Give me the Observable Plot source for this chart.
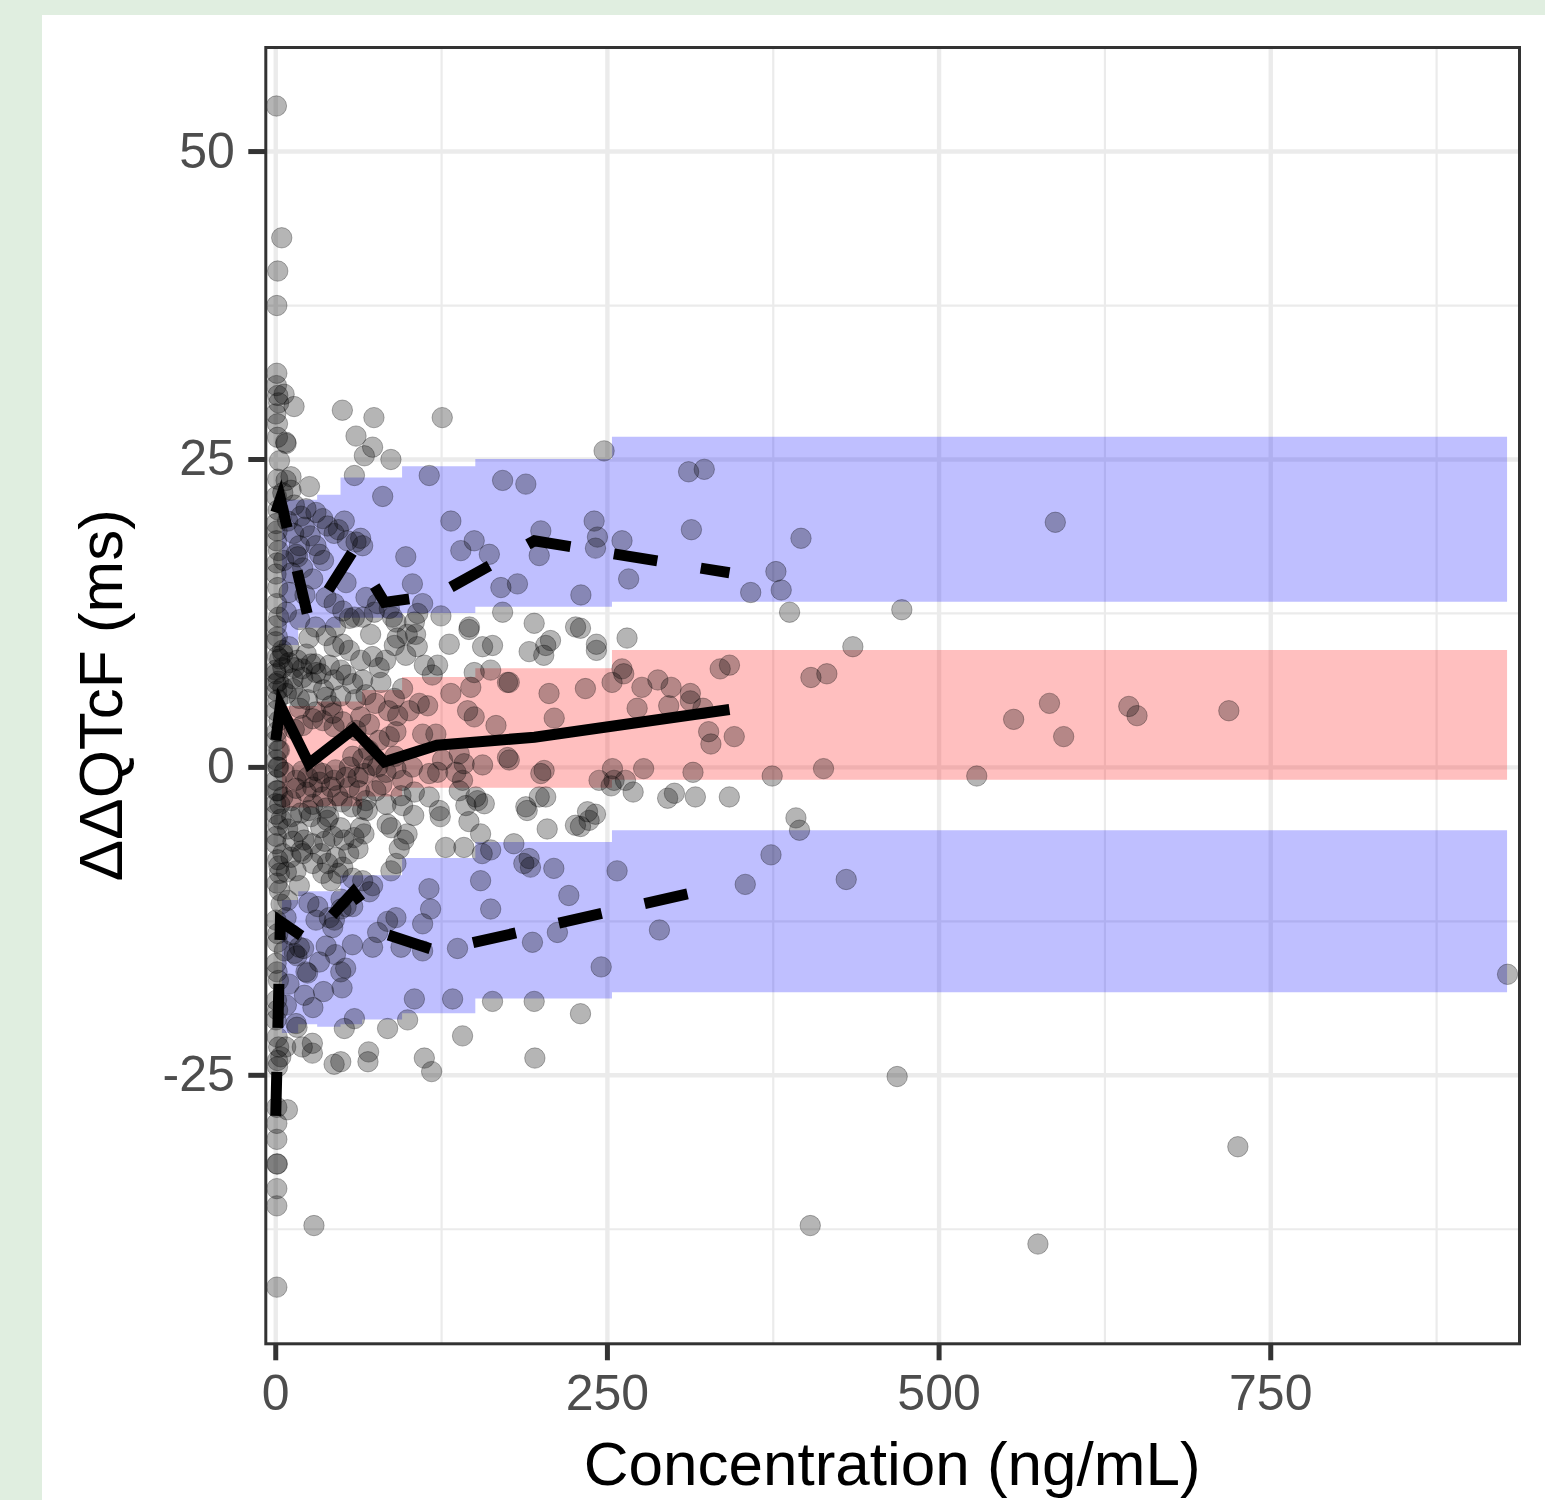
<!DOCTYPE html>
<html><head><meta charset="utf-8">
<script src="https://cdn.jsdelivr.net/npm/d3@7"></script>
<script src="https://cdn.jsdelivr.net/npm/@observablehq/plot@0.6"></script>
<style>
html,body{margin:0;padding:0;background:#e0eee0;width:1545px;height:1500px;overflow:hidden;}
#panel{position:absolute;left:42px;top:15px;width:1503px;height:1485px;background:#fff;overflow:hidden;}
</style></head><body><div id="panel"></div>
<script>
// ---- data ----
const xTicks = [0, 250, 500, 750];
const xMinor = [125, 375, 625, 875];
const yTicks = [-25, 0, 25, 50];
const yMinor = [-37.5, -12.5, 12.5, 37.5];

// bins (prediction interval bands)
const binStart = [5, 17.3, 31.6, 49.2, 65.5, 95.6, 150.8, 253.8];
const binEnd   = [17.3, 31.6, 49.2, 65.5, 95.6, 150.8, 253.8, 928.5];
const upperLo  = [9.9, 11.3, 11.3, 12.1, 12.1, 12.5, 13.0, 13.4];
const upperHi  = [21.7, 21.7, 22.1, 23.5, 23.5, 24.4, 25.0, 26.8];
const medLo    = [-3.3, -3.3, -3.2, -3.2, -2.4, -1.7, -1.7, -1.05];
const medHi    = [4.95, 4.95, 5.3, 5.3, 6.25, 7.3, 8.0, 9.5];
const lowerLo  = [-21.6, -20.9, -21.1, -20.9, -20.5, -20.0, -18.8, -18.3];
const lowerHi  = [-10.8, -10.1, -10.1, -8.8, -8.8, -7.4, -6.1, -5.15];

// observed percentile lines
const binMid    = [0, 3.5, 25, 58.5, 82, 121.5, 195, 342];
const obsMedian = [2.2, 5.0, 0.3, 3.1, 0.45, 1.8, 2.45, 4.7];
const obsP95    = [20.7, 21.8, 11.9, 17.6, 13.4, 14.0, 18.4, 15.8];
const obsP05    = [-28.3, -12.5, -14.1, -10.1, -13.5, -14.9, -13.1, -9.5];

// observed points [concentration, ddQTcF]
const observed = [
[0.5,53.7],[4.5,43.0],[1.5,40.3],[0.8,37.5],[0.8,32.0],[0.5,31.0],[6.3,30.3],[1.5,30.2],[2.2,29.6],[13.8,29.3],[0,28.7],[1.3,27.9],[1.3,26.8],[7.5,26.4],[2.8,24.9],[1.5,23.4],[0.5,22.0],[1.8,20.9],[0.3,19.8],[1.0,19.2],[0.5,18.4],[2.0,17.6],[0.8,16.6],[0.2,15.7],[1.5,14.6],[0.6,13.3],[2.2,12.2],[0.4,11.5],[1.2,10.6],[0,10.2],[1.3,9.0],[0,7.9],[2.0,7.0],[0.7,6.2],[1.6,5.5],[0.3,4.6],[2.4,3.8],[0.9,2.9],[1.9,1.4],[0.5,0.6],[2.1,0.0],[0.6,-1.9],[1.7,-4.7],[0.4,-5.6],[2.3,-8.0],[0.9,-9.4],[1.2,-14.2],[0.3,-15.9],[1.0,-16.6],[2.0,-17.3],[0.6,-18.9],[1.4,-19.7],[0.2,-20.5],[1.1,-21.9],[2.2,-22.7],[1.3,-23.8],[1.3,-24.3],[0.8,-27.6],[8.8,-27.8],[0.8,-28.9],[0.8,-30.2],[0.8,-32.2],[1.2,-32.2],[0.8,-34.2],[0.8,-35.6],[28.8,-37.2],[0.8,-42.2],
[50.2,29.0],[74,28.4],[125.5,28.4],[60.5,26.9],[73,26.0],[66.8,25.3],[86.8,25.0],[59.3,23.7],[115.7,23.7],[171,23.3],[188.5,23.0],[247.5,25.7],[80.6,22.0],[25.4,22.8],[11.5,23.6],[11.5,22.5],[5.3,22.3],[7.8,23.3],[7.8,26.3],[30.3,20.7],[22.8,21.0],[21.6,19.5],[39,19.6],[44,19.0],[51.7,20.0],[35.4,20.2],[47.2,19.3],[13.5,19.0],[30.3,18.0],[54,18.4],[60.5,18.3],[64,18.6],[65.5,18.0],[16.6,17.1],[17.8,18.0],[15.3,17.3],[20.3,16.2],[36,16.8],[27.9,15.3],[53,15.0],[37.9,13.8],[68,13.8],[76.8,13.3],[85.6,12.9],[98,17.1],[103,14.9],[110.7,13.3],[132,20.0],[139.5,17.6],[149.6,18.4],[161,17.3],[169.7,14.6],[182.2,14.9],[199.8,19.2],[198.6,17.2],[230,14.0],[240,20.0],[242.5,18.7],[241,17.8],[261,18.4],[124.5,12.3],[146,11.4],[171,12.6],[194.8,11.7],[226,11.4],[44,13.3],[50.5,12.7],[55.5,12.1],[59.3,12.2],[65.5,12.2],[74.3,12.6],[88,12.2],[90.6,11.8],[107,12.5],[104.5,11.8],
[9,20.0],[14,21.3],[19,20.4],[26,18.8],[33,17.3],[12,15.8],[22,14.0],[8,12.6],[30,11.4],[18,12.0],[25,10.5],[38,10.7],[45,11.4],[6,16.8],[10,14.2],
[311.2,24.0],[323,24.2],[266,15.3],[313.3,19.3],[395.9,18.6],[377,15.9],[381,14.4],[358,14.2],[387.3,12.6],[471.9,12.8],[587.6,19.9],
[10,9.8],[16.3,8.7],[64,8.7],[71.5,10.8],[82.8,8.7],[91.6,10.5],[99.1,10.8],[105.4,10.8],[106.7,9.8],[145.6,11.2],[207.1,10.3],[435,9.8],[264.8,10.5],[241.7,10.0],[241.7,9.5],[229.7,11.3],[5.3,9.2],[26.6,8.4],[40.4,8.3],
[5,9.5],[10,8.5],[13,7.2],[8,6.0],[3,8.8],
[89.4,9.9],[98,9.1],[112,8.3],[122,8.3],[118,7.5],[130.8,10.0],[155.9,9.8],[163.4,9.9],[162,7.9],[174.7,6.9],[191,9.4],[203.5,9.9],[202,9.1],[78,8.1],[73,9.0],[65.5,7.1],[79.3,6.9],[53,7.5],[58,6.8],[44,7.1],[49,7.9],[34,7.6],[30,8.4],[23,9.2],[20,8.0],[50.5,10.0],[55.5,9.5],[44,9.8],[149.6,7.7],
[95.6,6.4],[89.4,5.6],[91.9,4.2],[100.7,4.6],[108.2,5.2],[114.5,5.0],[132,6.0],[147,6.5],[176,6.9],[206,6.0],[144.6,4.6],[149.6,4.1],[166,3.4],[209.9,4.0],[120.7,2.7],[110.7,2.7],[90.6,2.9],[85.6,2.5],[78,2.2],[64,4.1],[70.6,3.5],[60.5,3.0],[50.5,3.7],[44,3.3],[43,4.4],[35.4,3.8],[27.9,3.95],[20.3,3.4],[49,5.8],[41.7,5.0],[37.9,5.7],[17.8,5.6],[12.8,6.4],[5.3,6.5],[0.2,7.6],[0.2,6.8],[5.3,8.1],[14.1,8.1],[20.3,7.3],[30.4,7.7],
[18,4.8],[24,5.5],[30,4.5],[36,6.3],[27,6.9],[14,3.1],[75,5.2],[85,4.6],[60,5.5],[68,5.9],
[261,8.0],[262.3,7.6],[253.5,6.9],[233.4,6.4],[276,6.5],[288,7.1],[298,6.5],[312.5,6.0],[312.5,5.4],[296.2,5.0],[272.4,4.8],[322,4.8],[335,8.0],[342,8.3],[403.4,7.3],[415.4,7.6],[326.3,2.9],[328,1.9],[345.6,2.5],[556.2,3.9],[583.2,5.2],[593.9,2.5],[643,4.95],[649.2,4.2],[718.4,4.6],
[138.3,1.1],[142,0.3],[155.9,0.2],[174.7,0.8],[176,0.6],[199.8,-0.5],[202.3,-0.25],[243.7,-1.05],[253.8,-0.1],[255,-1.05],[252.8,-1.5],[103,0.03],[115.7,-0.5],[122,-0.4],[125.7,0.6],[135.8,-0.4],[140.8,-1.05],[95.6,-1.05],[90.6,-0.1],[83.1,-0.4],[76.8,0.03],[73,0.16],[66.8,-0.5],[65.5,0.7],[55.5,0.03],[53,-0.8],[44,-1.05],[35.4,-0.5],[30.3,-0.25],[24.1,-0.8],[15.3,-1.05],[6.5,-0.4],[1.5,0.03],[0.2,-1.05],[2.8,1.4],[0.2,2.2],
[20,-0.3],[28,-3.0],[33,-1.2],[38,-3.3],[45,-0.2],[50,-2.8],[25,-3.5],[40,-4.0],[58,0.9],[62,-0.8],[70,1.4],[80,-1.4],[57,-3.2],[90,0.9],
[263.6,-1.05],[277.3,-0.1],[314.5,-0.4],[374.2,-0.7],[412.9,-0.1],[528.4,-0.7],[269.4,-2.0],[295.4,-2.5],[300.5,-2.1],[316.3,-2.4],[341.9,-2.4],
[94.4,-2.3],[104.5,-2.0],[115.7,-2.4],[123.3,-3.5],[138.3,-1.9],[143.3,-3.1],[152.1,-2.7],[157.2,-2.95],[75.5,-1.9],[68,-2.7],[63,-1.9],[55.5,-1.6],[46.7,-2.3],[41.7,-1.6],[35.4,-2.4],[27.9,-1.6],[22.8,-2.0],[15.3,-1.7],[11.5,-2.7],[5.3,-2.4],[1.5,-1.9],[0,-2.95],[0.2,-3.8],[95.6,-3.1],[83.1,-3.0],[65.5,-3.4],[150.8,-2.4],[188.5,-3.2],[198.6,-2.4],[203.5,-2.4],[235,-3.6],[241,-3.8],
[69,-3.5],[84,-4.6],[99,-5.4],[96.6,-5.9],[104,-3.9],[124,-4.0],[128,-6.5],[141.8,-6.5],[145.6,-4.4],[154.4,-5.4],[155.6,-7.0],[162,-6.7],[189.5,-3.5],[204.6,-5.0],[225.9,-4.7],[179.5,-6.2],[154.4,-9.2],[209.6,-8.2],[192,-8.1],[187,-7.8],[220.9,-10.4],[115.5,-9.85],[116.7,-11.5],[162,-11.5],[45.2,-7.3],[33.9,-7.0],[27.6,-6.2],[21.3,-5.9],[236.2,-4.3],[191,-7.4],[93.1,-6.6],[86.8,-8.4],[90.6,-7.8],[87,-4.9],
[51.4,-5.9],[59,-5.7],[66.5,-5.4],[64,-4.9],[48.9,-4.9],[38.9,-4.3],[33.9,-4.9],[26.4,-4.0],[18.8,-3.7],
[4,-4.2],[9,-5.0],[13,-6.0],[17,-5.2],[8,-8.5],[12,-4.0],[3,-3.0],[19,-6.8],[37,-6.0],[43,-5.6],[55,-7.0],[62,-6.6],[47,-8.6],[39,-7.8],
[392.1,-4.1],[394.8,-5.1],[373.3,-7.1],[257.3,-8.4],[353.9,-9.5],[430,-9.1],[289.2,-13.2],[245.3,-16.2],[229.7,-20.0],[229.7,-4.8],
[110.7,-12.7],[104.5,-18.8],[133.3,-18.8],[163.4,-19.0],[194.8,-19.0],[212.3,-13.4],[193.5,-14.2],[137,-14.7],[110.7,-14.9],[94.4,-14.6],[90.6,-12.2],[84.3,-12.5],[76.8,-13.4],[73,-14.6],[59.3,-20.4],[51.7,-21.2],[99.4,-20.5],[84.3,-21.2],[140.8,-21.8],[21.6,-18.5],[22.8,-16.6],[15.3,-20.8],
[58,-11.3],[53,-11.3],[70.6,-10.1],[73,-9.6],[65.5,-9.2],[58,-9.0],[50.5,-8.1],[41.7,-9.2],[35.4,-8.6],[27.9,-7.8],[20.3,-7.0],[11.5,-7.3],[15.3,-8.4],[17.8,-9.6],[5.3,-7.0],[0.2,-6.2],[1.5,-7.5],[2.8,-8.6],[2.8,-10.0],[4,-11.1],[0.2,-12.4],[7.8,-12.2],[1.5,-13.5],[6.5,-14.9],[14.1,-15.1],[17.8,-14.6],[30.3,-12.4],[31.6,-11.3],[40.4,-12.2],[49.2,-10.7],[49.2,-11.5],[44.2,-12.4],[42.9,-13.0],
[9,-10.8],[12,-13.6],[25,-11.0],[33,-15.8],[38,-14.5],[10,-17.6],[28,-19.5],[36,-18.2],[45,-15.2],[8,-19.3],
[112,-23.6],[117.5,-24.7],[49,-23.9],[44,-24.1],[69.5,-23.9],[70,-23.1],[27.6,-22.4],[27.6,-23.2],[20,-22.7],[7.5,-22.7],[3.8,-23.5],[195.3,-23.6],[16,-21.1],[50,-17.9],[49,-16.6],[52.7,-16.3],[24,-16.7],[57.8,-14.4],[21,-14.7],[16,-15.3],
[468.4,-25.1],[725.2,-30.8],[574.5,-38.7],[402.9,-37.2],[928.5,-16.8]
];

// ---- build ----
const W = 1503, H = 1485;
const mL = 223.3, mR = 26, mT = 32, mB = 156.7;

const bandRows = binStart.map((s, i) => ({x: s, uLo: upperLo[i], uHi: upperHi[i], mLo: medLo[i], mHi: medHi[i], lLo: lowerLo[i], lHi: lowerHi[i]}));
const last = bandRows[bandRows.length - 1];
bandRows.push({...last, x: binEnd[binEnd.length - 1]});

const medRows = binMid.map((x, i) => ({x, y: obsMedian[i]}));
const p95Rows = binMid.map((x, i) => ({x, y: obsP95[i]}));
const p05Rows = binMid.map((x, i) => ({x, y: obsP05[i]}));

const lineStyle = {x: "x", y: "y", stroke: "black", strokeWidth: 11, strokeLinejoin: "miter", strokeMiterlimit: 10, strokeLinecap: "butt"};

const chart = Plot.plot({
  width: W, height: H,
  marginLeft: mL, marginRight: mR, marginTop: mT, marginBottom: mB,
  style: {fontFamily: "'Liberation Sans', Arial, Helvetica, sans-serif", background: "transparent", overflow: "visible"},
  x: {domain: [-7.5, 937.5]},
  y: {domain: [-46.8, 58.45]},
  marks: [
    Plot.gridX(xMinor, {stroke: "#ebebeb", strokeOpacity: 1, strokeWidth: 2.2}),
    Plot.gridY(yMinor, {stroke: "#ebebeb", strokeOpacity: 1, strokeWidth: 2.2}),
    Plot.gridX(xTicks, {stroke: "#ebebeb", strokeOpacity: 1, strokeWidth: 4.4}),
    Plot.gridY(yTicks, {stroke: "#ebebeb", strokeOpacity: 1, strokeWidth: 4.4}),
    Plot.areaY(bandRows, {x: "x", y1: "uLo", y2: "uHi", curve: "step-after", fill: "blue", fillOpacity: 0.25}),
    Plot.areaY(bandRows, {x: "x", y1: "mLo", y2: "mHi", curve: "step-after", fill: "red", fillOpacity: 0.25}),
    Plot.areaY(bandRows, {x: "x", y1: "lLo", y2: "lHi", curve: "step-after", fill: "blue", fillOpacity: 0.25}),
    Plot.dot(observed, {x: d => d[0], y: d => d[1], r: 10.2, fill: "black", fillOpacity: 0.29, stroke: "black", strokeOpacity: 0.29, strokeWidth: 1}),
    Plot.line(medRows, lineStyle),
    Plot.line(p95Rows, {...lineStyle, strokeDasharray: "44,44"}),
    Plot.line(p05Rows, {...lineStyle, strokeDasharray: "44,44"}),
    Plot.frame({stroke: "#333333", strokeWidth: 3}),
    Plot.axisX(xTicks, {tickSize: 17, tickPadding: 14, stroke: "#333333", strokeWidth: 5, color: "#4d4d4d", fontSize: 50, label: null, tickFormat: d => String(d)}),
    Plot.axisY(yTicks, {tickSize: 17, tickPadding: 14, stroke: "#333333", strokeWidth: 5, color: "#4d4d4d", fontSize: 50, label: null, tickFormat: d => String(d)})
  ]
});
document.getElementById("panel").appendChild(chart);

const svg = d3.select(chart);
const cx = (mL + (W - mR)) / 2;
const cy = (mT + (H - mB)) / 2;
svg.append("text")
  .attr("x", cx).attr("y", H - 15.4)
  .attr("text-anchor", "middle").attr("font-size", 62).attr("fill", "#000")
  .attr("font-family", "'Liberation Sans', Arial, sans-serif")
  .text("Concentration (ng/mL)");
svg.append("text")
  .attr("transform", `translate(80,${cy}) rotate(-90)`)
  .attr("text-anchor", "middle").attr("font-size", 62).attr("fill", "#000")
  .attr("font-family", "'Liberation Sans', Arial, sans-serif")
  .text("ΔΔQTcF (ms)");
</script></body></html>
